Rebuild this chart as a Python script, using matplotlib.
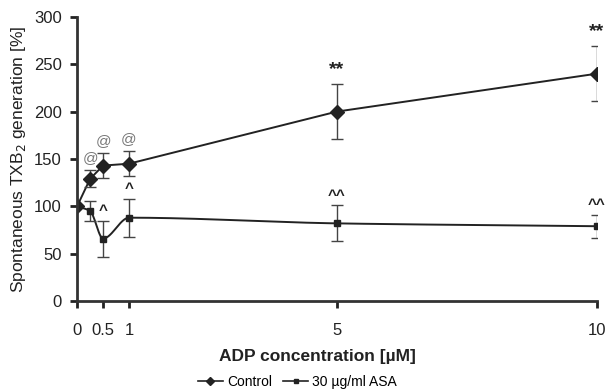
import numpy as np
import matplotlib.pyplot as plt

plt.rcParams['font.family'] = ['Liberation Sans', 'DejaVu Sans']

adp = [0, 0.25, 0.5, 1, 5, 10]
control = [100, 129, 143, 145, 200, 240]
control_err = [0, 9, 13, 13, 29, 29]
asa = [100, 95, 66, 88, 82, 79]
asa_err = [0, 11, 19, 20, 19, 12]

control_marks = ['', '@', '@', '@', '**', '**']
asa_marks = ['', '', '^', '^', '^^', '^^']


def pchip(x, y, xs):
    # monotone cubic for the smooth connecting line
    x = np.asarray(x, float)
    y = np.asarray(y, float)
    h = np.diff(x)
    d = np.diff(y) / h
    m = np.zeros_like(y)
    for k in range(1, len(x) - 1):
        if d[k - 1] * d[k] > 0:
            w1 = 2 * h[k] + h[k - 1]
            w2 = h[k] + 2 * h[k - 1]
            m[k] = (w1 + w2) / (w1 / d[k - 1] + w2 / d[k])
    m[0] = d[0]
    m[-1] = d[-1]
    out = np.empty_like(xs)
    for i, xv in enumerate(xs):
        k = min(np.searchsorted(x, xv, side='right') - 1, len(x) - 2)
        t = (xv - x[k]) / h[k]
        h00 = 2 * t**3 - 3 * t**2 + 1
        h10 = t**3 - 2 * t**2 + t
        h01 = -2 * t**3 + 3 * t**2
        h11 = t**3 - t**2
        out[i] = h00 * y[k] + h10 * h[k] * m[k] + h01 * y[k + 1] + h11 * h[k] * m[k + 1]
    return out


fig, ax = plt.subplots(figsize=(6.07, 3.92), dpi=100)
fig.subplots_adjust(left=0.127, right=0.983, top=0.957, bottom=0.232)

xs = np.linspace(0, 10, 600)
ax.plot(adp, control, color='#222222', lw=1.4)
ax.plot(xs, pchip(adp, asa, xs), color='#222222', lw=1.4)

ax.errorbar(adp, control, yerr=control_err, fmt='D', color='#222222', ms=7,
            capsize=4, elinewidth=1, capthick=1, ecolor='#444444')
ax.errorbar(adp, asa, yerr=asa_err, fmt='s', color='#222222', ms=5,
            capsize=4, elinewidth=1, capthick=1, ecolor='#444444')

for x, y, e, s in zip(adp, control, control_err, control_marks):
    if s:
        col = '#777777' if s == '@' else '#222222'
        fs = 11 if s == '@' else 14
        ax.text(x, y + e + 6, s, ha='center', va='bottom', color=col,
                fontsize=fs, fontweight='bold' if s == '**' else 'normal')
for x, y, e, s in zip(adp, asa, asa_err, asa_marks):
    if s:
        ax.text(x, y + e + 3, s, ha='center', va='bottom', color='#222222',
                fontsize=11, fontweight='bold')

ax.set_xlim(0, 10)
ax.set_ylim(0, 300)
ax.set_xticks([0, 0.5, 1, 5, 10])
ax.set_xticklabels(['0', '0.5', '1', '5', '10'])
ax.set_yticks([0, 50, 100, 150, 200, 250, 300])
ax.spines['top'].set_visible(False)
ax.spines['right'].set_visible(False)
ax.spines['left'].set_linewidth(2)
ax.spines['bottom'].set_linewidth(2)
ax.spines['left'].set_color('#333333')
ax.spines['bottom'].set_color('#333333')
ax.tick_params(width=2, length=5, labelsize=12, colors='#222222')
ax.tick_params(axis='x', pad=11)
ax.tick_params(axis='y', pad=6)
ax.set_ylabel('Spontaneous TXB$_2$ generation [%]', fontsize=12.5, color='#222222')
ax.set_xlabel('ADP concentration [µM]', fontsize=12.5, fontweight='bold',
              color='#222222')
ax.xaxis.set_label_coords(0.462, -0.17)

h1, = ax.plot([], [], marker='D', color='#222222', ms=4, lw=1.2)
h2, = ax.plot([], [], marker='s', color='#222222', ms=3, lw=1.2)
fig.legend([h1, h2], ['Control', '30 µg/ml ASA'], loc='lower center',
           ncol=2, frameon=False, fontsize=10, handlelength=1.8,
           columnspacing=0.8, handletextpad=0.3,
           bbox_to_anchor=(0.49, -0.025))

fig.savefig('out.png')
